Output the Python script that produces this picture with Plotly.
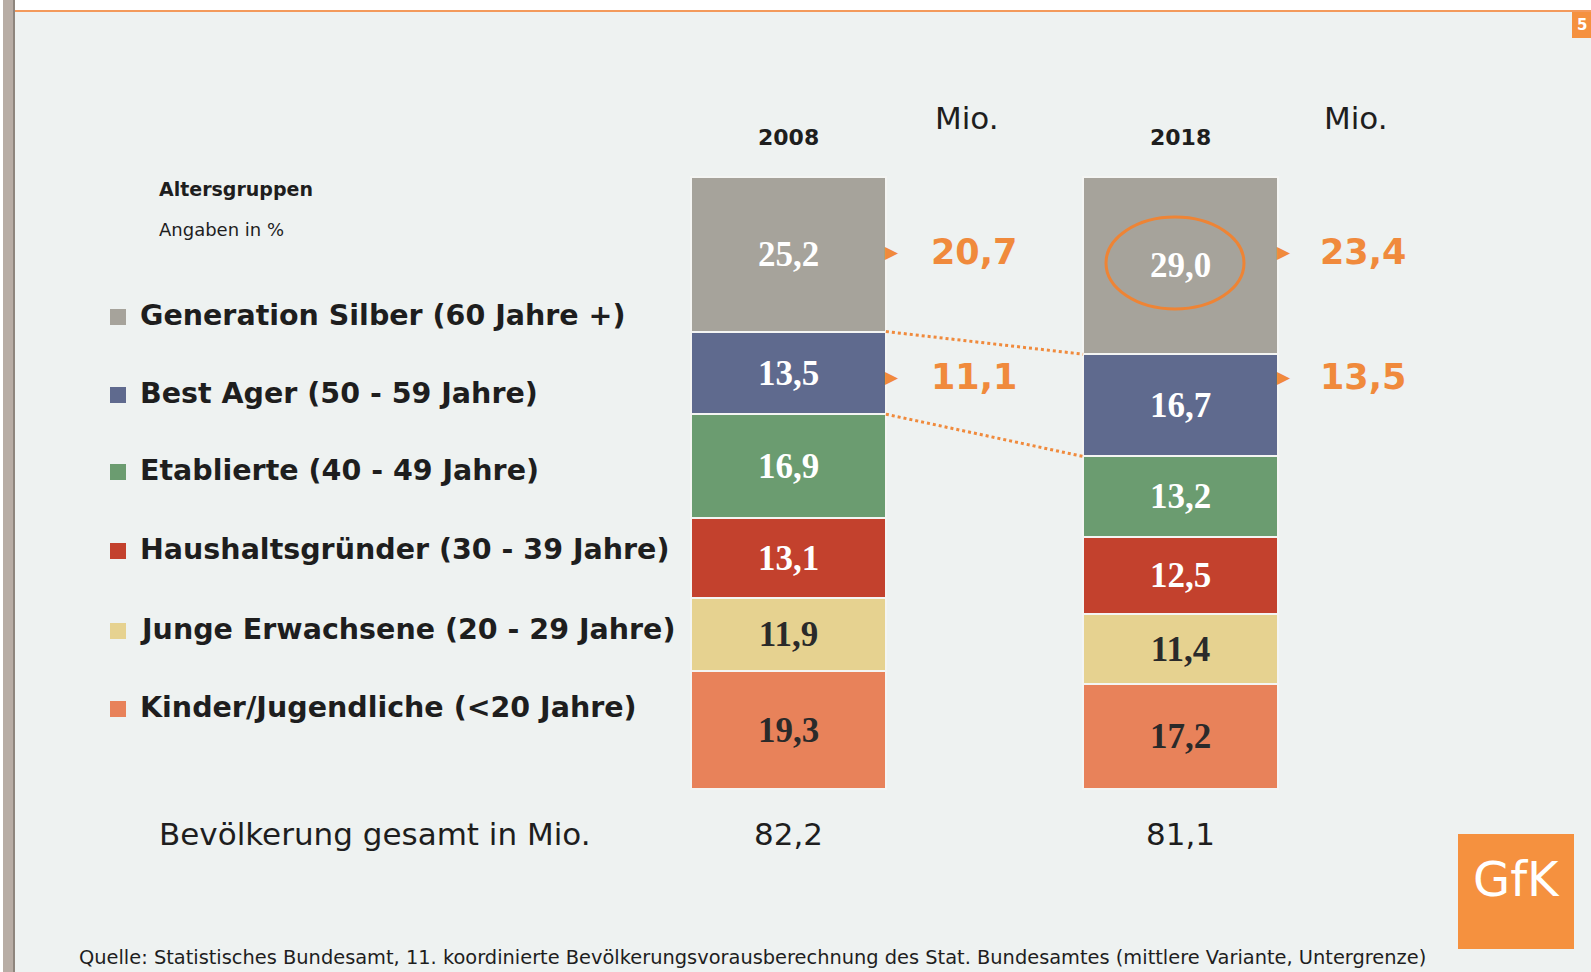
import plotly.graph_objects as go

# ---------------- data ----------------
categories = ["Kinder/Jugendliche (&lt;20 Jahre)", "Junge Erwachsene (20 - 29 Jahre)",
              "Haushaltsgründer (30 - 39 Jahre)", "Etablierte (40 - 49 Jahre)",
              "Best Ager (50 - 59 Jahre)", "Generation Silber (60 Jahre +)"]
years = ["2008", "2018"]
share_2008 = [19.3, 11.9, 13.1, 16.9, 13.5, 25.2]
share_2018 = [17.2, 11.4, 12.5, 13.2, 16.7, 29.0]
total_mio = [82.2, 81.1]
silber_mio = [20.7, 23.4]
bestager_mio = [11.1, 13.5]

colors = ["#e8825a", "#e6d290", "#c3412d", "#6b9c70", "#5f6a8e", "#a6a39b"]
text_colors = ["#2a2a2a", "#2a2a2a", "white", "white", "white", "white"]

# ---------------- geometry helpers (pixel -> data) ----------------
W, H = 1591, 972
X0PX, UX = 788.5, 392.0
Y0PX, UY = 789.0, 6.124
def dx(px): return (px - X0PX) / UX
def dy(py): return (Y0PX - py) / UY
def px(xp): return xp / W
def py(yp): return 1 - yp / H

ORANGE = "#f08a3c"
BG = "#eef2f1"
BAR_W = 0.497

def fmt(v):
    return f"{v:.1f}".replace(".", ",")

fig = go.Figure()
xs = [0, 1]
for i, cat in enumerate(categories):
    vals = [share_2008[i], share_2018[i]]
    fig.add_trace(go.Bar(
        x=xs, y=vals, width=BAR_W, name=cat,
        marker=dict(color=colors[i], line=dict(color="#f4f5f3", width=2)),
        text=[fmt(v) for v in vals], textposition="inside",
        insidetextanchor="middle", constraintext="none",
        textfont=dict(family="Liberation Serif", size=35, color=text_colors[i], weight="bold"),
        hoverinfo="skip", showlegend=False,
    ))

# dotted connector lines between group boundaries
def cum_top(vals, n):
    return sum(vals[:n])
for n in [5, 4]:
    fig.add_trace(go.Scatter(
        x=[BAR_W / 2, 1 - BAR_W / 2],
        y=[cum_top(share_2008, n), cum_top(share_2018, n)],
        mode="lines", line=dict(color=ORANGE, width=3, dash="dot"),
        hoverinfo="skip", showlegend=False,
    ))

ann = []
shapes = []

# year headers and totals
for i, yr in enumerate(years):
    ann.append(dict(x=i, y=dy(137), text=f"<b>{yr}</b>", showarrow=False,
                    font=dict(family="DejaVu Sans", size=22, color="#1e1e1e")))
    ann.append(dict(x=i, y=dy(834), text=fmt(total_mio[i]), showarrow=False,
                    font=dict(family="DejaVu Sans", size=31, color="#1e1e1e")))
mio_x = [967, 1356]
for mx in mio_x:
    ann.append(dict(x=dx(mx), y=dy(118), text="Mio.", showarrow=False,
                    font=dict(family="DejaVu Sans", size=31, color="#1e1e1e")))

# orange arrows and absolute numbers
num_x = [974, 1363]
arrow_x = [892, 1284]
for i in range(2):
    for val, ypix in [(silber_mio[i], 252), (bestager_mio[i], 377)]:
        ann.append(dict(x=dx(num_x[i]), y=dy(ypix), text=f"<b>{fmt(val)}</b>", showarrow=False,
                        font=dict(family="DejaVu Sans", size=35, color=ORANGE)))
        ann.append(dict(x=dx(arrow_x[i]), y=dy(ypix), text="▶", showarrow=False,
                        font=dict(family="DejaVu Sans", size=17, color=ORANGE)))

# legend (custom)
ann.append(dict(x=dx(157), y=dy(189), xanchor="left", text="<b>Altersgruppen</b>", showarrow=False,
                font=dict(family="DejaVu Sans", size=19, color="#1e1e1e")))
ann.append(dict(x=dx(157), y=dy(229), xanchor="left", text="Angaben in %", showarrow=False,
                font=dict(family="DejaVu Sans", size=18, color="#1e1e1e")))
row_y = [315, 393, 470, 549, 629, 707]
for r, i in enumerate(range(len(categories) - 1, -1, -1)):
    yc = row_y[r]
    shapes.append(dict(type="rect", xref="paper", yref="paper",
                       x0=px(110), x1=px(126), y0=py(yc - 6), y1=py(yc + 10),
                       fillcolor=colors[i], line=dict(width=0)))
    ann.append(dict(x=dx(138), y=dy(yc), xanchor="left", text=f"<b>{categories[i]}</b>",
                    showarrow=False, font=dict(family="DejaVu Sans", size=28.5, color="#1e1e1e")))

ann.append(dict(x=dx(157), y=dy(834), xanchor="left", text="Bevölkerung gesamt in Mio.",
                showarrow=False, font=dict(family="DejaVu Sans", size=31, color="#1e1e1e")))

# footer
ann.append(dict(x=dx(77), y=dy(957), xanchor="left",
                text="Quelle: Statistisches Bundesamt, 11. koordinierte Bevölkerungsvorausberechnung des Stat. Bundesamtes (mittlere Variante, Untergrenze)",
                showarrow=False, font=dict(family="DejaVu Sans", size=19.4, color="#1e1e1e")))

# circle around 2018 silver value
shapes.append(dict(type="circle", xref="x", yref="y",
                   x0=dx(1175 - 69), x1=dx(1175 + 69), y0=dy(263 + 46), y1=dy(263 - 46),
                   line=dict(color="#ee8435", width=3)))

# frame decorations
shapes += [
    dict(type="rect", xref="paper", yref="paper", x0=0, x1=1, y0=py(11), y1=1,
         fillcolor="white", line=dict(width=0), layer="below"),
    dict(type="line", xref="paper", yref="paper", x0=px(14), x1=1, y0=py(11), y1=py(11),
         line=dict(color="#f39a5c", width=2)),
    dict(type="rect", xref="paper", yref="paper", x0=0, x1=px(3), y0=0, y1=1,
         fillcolor="white", line=dict(width=0)),
    dict(type="rect", xref="paper", yref="paper", x0=px(3), x1=px(13), y0=0, y1=1,
         fillcolor="#b8ada5", line=dict(width=0)),
    dict(type="rect", xref="paper", yref="paper", x0=px(13), x1=px(15), y0=0, y1=1,
         fillcolor="#8e857d", line=dict(width=0)),
    dict(type="rect", xref="paper", yref="paper", x0=px(1572), x1=1, y0=py(38), y1=py(12),
         fillcolor="#f5913f", line=dict(width=0)),
    dict(type="rect", xref="paper", yref="paper", x0=px(1458), x1=px(1574), y0=py(949), y1=py(834),
         fillcolor="#f5913f", line=dict(width=0)),
]
ann.append(dict(x=px(1582), y=py(25), xref="paper", yref="paper", xanchor="center", yanchor="middle",
                text="<b>5</b>", showarrow=False, font=dict(family="DejaVu Sans", size=15, color="white")))
ann.append(dict(x=px(1516), y=py(879), xref="paper", yref="paper", xanchor="center", yanchor="middle",
                text="GfK", showarrow=False, font=dict(family="DejaVu Sans", size=48, color="white")))

fig.update_layout(
    width=W, height=H, autosize=False,
    margin=dict(l=0, r=0, t=0, b=0),
    paper_bgcolor=BG, plot_bgcolor=BG,
    barmode="stack", bargap=0,
    xaxis=dict(range=[dx(0), dx(W)], visible=False, fixedrange=True),
    yaxis=dict(range=[dy(H), dy(0)], visible=False, fixedrange=True),
    annotations=ann, shapes=shapes, showlegend=False,
)

fig.write_html("out.html", config={"displayModeBar": False},
               post_script="document.body.style.margin='0';document.body.style.overflow='hidden';")
